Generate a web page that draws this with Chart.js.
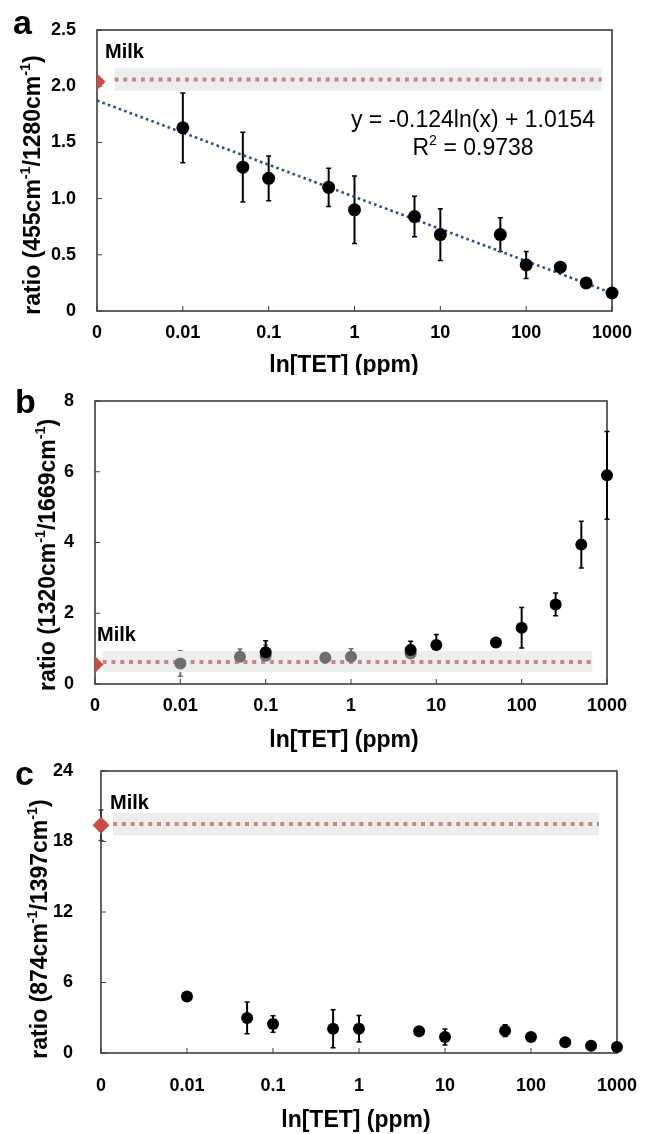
<!DOCTYPE html>
<html>
<head>
<meta charset="utf-8">
<script src="https://cdn.jsdelivr.net/npm/chart.js@4.4.1/dist/chart.umd.min.js"></script>
<style>
  html, body { margin: 0; padding: 0; background: #fff; }
  #wrap { position: relative; width: 651px; height: 1134px; }
  canvas { position: absolute; left: 0; }
</style>
</head>
<body>
<div id="wrap">
  <canvas id="chart-a" width="651" height="375" style="top:0px"></canvas>
  <canvas id="chart-b" width="651" height="380" style="top:375px"></canvas>
  <canvas id="chart-c" width="651" height="379" style="top:755px"></canvas>
</div>
<script>
var FONT = '"Liberation Sans", Arial, sans-serif';
var DARK = '#3c3c3c';

/** TET concentrations (ppm) and the decade ticks of the x axis. */
var CONC = [0.01, 0.05, 0.1, 0.5, 1, 5, 10, 50, 100, 250, 500, 1000];
var X_TICKS = [0.001, 0.01, 0.1, 1, 10, 100, 1000];
var X_TICK_LABELS = ['0', '0.01', '0.1', '1', '10', '100', '1000'];

/** Panel a: 455/1280 ratio. */
var A_RATIO = [1.63, 1.28, 1.18, 1.10, 0.90, 0.84, 0.68, 0.68, 0.41, 0.39, 0.25, 0.16];
var A_ERR = [0.31, 0.31, 0.20, 0.17, 0.30, 0.18, 0.23, 0.15, 0.12, 0.03, 0.02, 0.01];
var A_TREND_X = [0.001, 1000];
var A_TREND_Y = [1.872, 0.159];
var A_MILK = 2.04;
var A_MILK_LINE = 2.06;
var A_MILK_BAND = [1.96, 2.16];
var A_BAND_X = [0.0016, 760];

/** Panel b: 1320/1669 ratio, gray and black series. */
var B_GRAY_CONC = [0.01, 0.05, 0.1, 0.5, 1, 5];
var B_GRAY_RATIO = [0.58, 0.77, 0.80, 0.74, 0.77, 0.86];
var B_GRAY_ERR = [0.36, 0.22, 0.30, 0.08, 0.23, 0.25];
var B_CONC = [0.1, 5, 10, 50, 100, 250, 500, 1000];
var B_RATIO = [0.90, 0.96, 1.10, 1.17, 1.59, 2.25, 3.94, 5.90];
var B_ERR = [0.32, 0.25, 0.30, 0.08, 0.57, 0.32, 0.66, 1.24];
var B_MILK = 0.55;
var B_MILK_LINE = 0.62;
var B_MILK_BAND = [0.33, 0.93];
var B_BAND_X = [0.00123, 676];

/** Panel c: 874/1397 ratio. */
var C_RATIO = [4.80, 2.98, 2.47, 2.07, 2.07, 1.85, 1.36, 1.90, 1.36, 0.91, 0.62, 0.51];
var C_ERR = [0.10, 1.35, 0.70, 1.62, 1.13, 0.25, 0.68, 0.50, 0.20, 0.15, 0.10, 0.10];
var C_MILK = 19.38;
var C_MILK_ERR = 1.3;
var C_MILK_LINE = 19.5;
var C_MILK_BAND = [18.53, 20.43];
var C_BAND_X = [0.00138, 617];

function points(xs, ys) {
    return xs.map(function (x, i) {
        return {x: x, y: ys[i]};
    });
}

function sup(t) {
    return {t: t, sup: true};
}

/**
 * Draws a line of text made of plain and superscript parts.
 */
function drawRich(ctx, item) {
    var weight = item.bold ? 'bold ' : '';
    var parts = item.parts.map(function (p) {
        return typeof p === 'string' ? {t: p} : p;
    });
    var widths = [];
    var total = 0;
    parts.forEach(function (p) {
        ctx.font = weight + (p.sup ? item.size * 0.62 : item.size) + 'px ' + FONT;
        var w = ctx.measureText(p.t).width;
        widths.push(w);
        total += w;
    });
    ctx.save();
    ctx.translate(item.x, item.y);
    if (item.rotate) ctx.rotate(item.rotate);
    ctx.fillStyle = '#000';
    ctx.textAlign = 'left';
    ctx.textBaseline = item.baseline || 'middle';
    var x = item.align === 'left' ? 0 : -total / 2;
    parts.forEach(function (p, i) {
        ctx.font = weight + (p.sup ? item.size * 0.62 : item.size) + 'px ' + FONT;
        ctx.fillText(p.t, x, p.sup ? -item.size * 0.36 : 0);
        x += widths[i];
    });
    ctx.restore();
}

/**
 * Plot box, inward tick marks, error bars and the free text of one panel.
 */
function makeDecor(texts) {
    return {
        id: 'decor',
        beforeDatasetsDraw: function (chart) {
            var ctx = chart.ctx;
            var a = chart.chartArea;
            var xs = chart.scales.x;
            var ys = chart.scales.y;
            ctx.save();
            ctx.strokeStyle = DARK;
            ctx.lineWidth = 1;
            ctx.beginPath();
            xs.ticks.forEach(function (t) {
                var px = xs.getPixelForValue(t.value);
                ctx.moveTo(px, a.bottom);
                ctx.lineTo(px, a.bottom - 5);
            });
            ys.ticks.forEach(function (t) {
                var py = ys.getPixelForValue(t.value);
                ctx.moveTo(a.left, py);
                ctx.lineTo(a.left + 5, py);
            });
            ctx.stroke();
            ctx.lineWidth = 1.6;
            ctx.strokeRect(a.left, a.top, a.right - a.left, a.bottom - a.top);

            chart.data.datasets.forEach(function (ds, i) {
                if (!ds.errors) return;
                var meta = chart.getDatasetMeta(i);
                ctx.strokeStyle = ds.errorColor || '#000';
                meta.data.forEach(function (el, j) {
                    var e = ds.errors[j];
                    if (!e) return;
                    var y = ds.data[j].y;
                    var top = ys.getPixelForValue(y + e);
                    var bot = ys.getPixelForValue(y - e);
                    ctx.lineWidth = 2;
                    ctx.beginPath();
                    ctx.moveTo(el.x, top);
                    ctx.lineTo(el.x, bot);
                    ctx.stroke();
                    ctx.lineWidth = 1.5;
                    ctx.beginPath();
                    ctx.moveTo(el.x - 2.5, top);
                    ctx.lineTo(el.x + 2.5, top);
                    ctx.moveTo(el.x - 2.5, bot);
                    ctx.lineTo(el.x + 2.5, bot);
                    ctx.stroke();
                });
            });
            ctx.restore();
        },
        afterDraw: function (chart) {
            texts.forEach(function (t) {
                drawRich(chart.ctx, t);
            });
        }
    };
}

function bandDataset(xs, band) {
    return {
        type: 'line',
        data: points(xs, [band[1], band[1]]),
        fill: {value: band[0]},
        backgroundColor: '#ededed',
        borderWidth: 0,
        pointRadius: 0,
        order: 10
    };
}

function milkLineDataset(xs, y) {
    return {
        type: 'line',
        data: points(xs, [y, y]),
        fill: false,
        borderColor: 'rgb(198, 136, 134)',
        borderWidth: 4,
        borderDash: [4, 4.8],
        borderCapStyle: 'butt',
        pointRadius: 0,
        order: 9
    };
}

function milkMarker(y, half) {
    return {
        data: [{x: X_TICKS[0], y: y}],
        pointStyle: 'rectRot',
        pointRadius: 8.5,
        backgroundColor: '#cc4b45',
        borderWidth: 0,
        clip: half ? {left: 0, top: false, right: false, bottom: false} : false,
        order: 3
    };
}

function seriesDataset(xs, ys, errs, color, radius, order) {
    return {
        data: points(xs, ys),
        errors: errs,
        errorColor: color,
        pointRadius: radius,
        backgroundColor: color,
        borderWidth: 0,
        clip: false,
        order: order
    };
}

function tickFont() {
    return {family: FONT, size: 18, weight: 'bold'};
}

function panelOptions(p) {
    return {
        responsive: false,
        animation: false,
        events: [],
        layout: {padding: {left: 0, top: p.top, right: p.right, bottom: 0}},
        plugins: {legend: {display: false}, tooltip: {enabled: false}},
        scales: {
            x: {
                type: 'logarithmic',
                min: X_TICKS[0],
                max: X_TICKS[X_TICKS.length - 1],
                afterBuildTicks: function (s) {
                    s.ticks = X_TICKS.map(function (v) {
                        return {value: v};
                    });
                },
                afterFit: function (s) {
                    s.height = p.xHeight;
                },
                grid: {display: false},
                border: {display: false},
                ticks: {
                    padding: p.xPad,
                    maxRotation: 0,
                    autoSkip: false,
                    color: '#000',
                    font: tickFont(),
                    callback: function (v) {
                        var i = X_TICKS.indexOf(v);
                        return i < 0 ? '' : X_TICK_LABELS[i];
                    }
                }
            },
            y: {
                min: p.yMin,
                max: p.yMax,
                afterFit: function (s) {
                    s.width = p.yWidth;
                    s.paddingTop = 0;
                    s.paddingBottom = 0;
                },
                grid: {display: false},
                border: {display: false},
                ticks: {stepSize: p.yStep, padding: p.yPad, color: '#000', font: tickFont()}
            }
        }
    };
}

function createCharts() {
    new Chart(document.getElementById('chart-a'), {
        type: 'scatter',
        data: {
            datasets: [
                bandDataset(A_BAND_X, A_MILK_BAND),
                milkLineDataset(A_BAND_X, A_MILK_LINE),
                {
                    type: 'line',
                    data: points(A_TREND_X, A_TREND_Y),
                    fill: false,
                    borderColor: '#2a4d8f',
                    borderWidth: 2.6,
                    borderDash: [2.6, 3.2],
                    pointRadius: 0,
                    order: 8
                },
                milkMarker(A_MILK, true),
                seriesDataset(CONC, A_RATIO, A_ERR, '#000', 6.5, 1)
            ]
        },
        options: panelOptions({top: 30, right: 39, xHeight: 64, xPad: 3, yWidth: 97, yPad: 13, yMin: 0, yMax: 2.5, yStep: 0.5}),
        plugins: [makeDecor([
            {parts: ['a'], x: 13, y: 34, size: 34, bold: true, align: 'left', baseline: 'alphabetic'},
            {parts: ['Milk'], x: 105, y: 58, size: 20, bold: true, align: 'left', baseline: 'alphabetic'},
            {parts: ['y = -0.124ln(x) + 1.0154'], x: 473, y: 121, size: 23},
            {parts: ['R', sup('2'), ' = 0.9738'], x: 473, y: 149, size: 23},
            {parts: ['ratio (455cm', sup('-1'), '/1280cm', sup('-1'), ')'], x: 34, y: 185, size: 23, bold: true, rotate: -Math.PI / 2},
            {parts: ['ln[TET] (ppm)'], x: 344, y: 366, size: 23, bold: true}
        ])]
    });

    new Chart(document.getElementById('chart-b'), {
        type: 'scatter',
        data: {
            datasets: [
                bandDataset(B_BAND_X, B_MILK_BAND),
                milkLineDataset(B_BAND_X, B_MILK_LINE),
                milkMarker(B_MILK, true),
                seriesDataset(B_GRAY_CONC, B_GRAY_RATIO, B_GRAY_ERR, '#6e6e6e', 6, 2),
                seriesDataset(B_CONC, B_RATIO, B_ERR, '#000', 6, 1)
            ]
        },
        options: panelOptions({top: 26, right: 44, xHeight: 71, xPad: 3, yWidth: 95, yPad: 13, yMin: 0, yMax: 8, yStep: 2}),
        plugins: [makeDecor([
            {parts: ['b'], x: 15, y: 38, size: 34, bold: true, align: 'left', baseline: 'alphabetic'},
            {parts: ['Milk'], x: 97, y: 266, size: 20, bold: true, align: 'left', baseline: 'alphabetic'},
            {parts: ['ratio (1320cm', sup('-1'), '/1669cm', sup('-1'), ')'], x: 49, y: 180, size: 23, bold: true, rotate: -Math.PI / 2},
            {parts: ['ln[TET] (ppm)'], x: 344, y: 366, size: 23, bold: true}
        ])]
    });

    var cMilk = milkMarker(C_MILK, false);
    cMilk.errors = [C_MILK_ERR];
    cMilk.errorColor = DARK;

    new Chart(document.getElementById('chart-c'), {
        type: 'scatter',
        data: {
            datasets: [
                bandDataset(C_BAND_X, C_MILK_BAND),
                milkLineDataset(C_BAND_X, C_MILK_LINE),
                cMilk,
                seriesDataset(CONC, C_RATIO, C_ERR, '#000', 6, 1)
            ]
        },
        options: panelOptions({top: 16, right: 31, xHeight: 81, xPad: 14, yWidth: 101, yPad: 20, yMin: 0, yMax: 24, yStep: 6}),
        plugins: [makeDecor([
            {parts: ['c'], x: 15, y: 30, size: 34, bold: true, align: 'left', baseline: 'alphabetic'},
            {parts: ['Milk'], x: 110, y: 54, size: 20, bold: true, align: 'left', baseline: 'alphabetic'},
            {parts: ['ratio (874cm', sup('-1'), '/1397cm', sup('-1'), ')'], x: 41, y: 174, size: 23, bold: true, rotate: -Math.PI / 2},
            {parts: ['ln[TET] (ppm)'], x: 356, y: 366, size: 23, bold: true}
        ])]
    });
}

createCharts();
</script>
</body>
</html>
